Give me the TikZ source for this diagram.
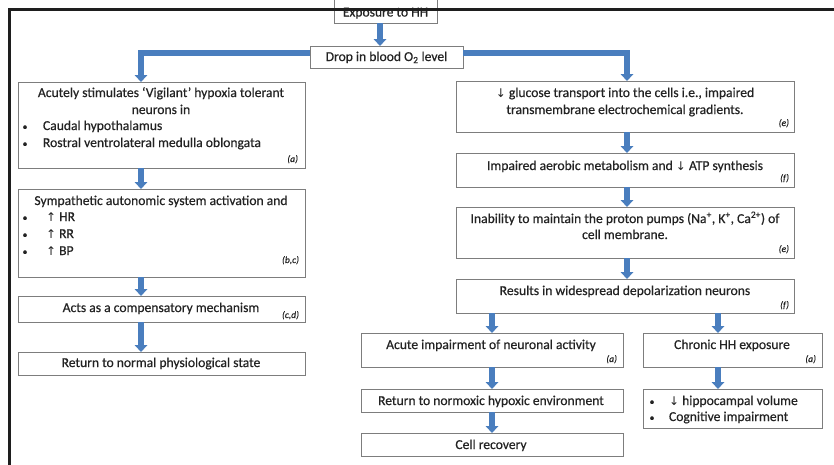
\documentclass[tikz,border=0pt]{standalone}
\usepackage{fontspec}
\setmainfont{Carlito}[FakeBold=0.5,UprightFeatures={FakeBold=0.5},ItalicFeatures={FakeBold=0.3}]
\newfontfamily\symf{DejaVu Sans}
\usetikzlibrary{arrows.meta}
\definecolor{flowblue}{RGB}{74,126,190}
\definecolor{boxgray}{RGB}{125,125,125}
\definecolor{txtc}{RGB}{35,35,35}
\definecolor{framec}{RGB}{30,30,30}
\newcommand\dnar{{\symf\fontsize{12}{14}\selectfont ↓}}
\newcommand\upar{{\symf\fontsize{12}{14}\selectfont ↑}}
\newcommand\bul{{\fontsize{10}{12}\selectfont •}}
\tikzset{
 box/.style={draw=boxgray, line width=0.9pt, fill=white, inner sep=0pt, outer sep=0pt, anchor=north west},
 txt/.style={inner sep=0pt, outer sep=0pt, anchor=base, text=txtc, font=\fontsize{13.6}{16}\selectfont},
 txtl/.style={txt, anchor=base west},
 refl/.style={inner sep=0pt, outer sep=0pt, anchor=base east, text=txtc, font=\itshape\fontsize{9.5}{11}\selectfont},
 flow/.style={draw=flowblue, line width=5.5pt, -{Triangle[width=12.5pt,length=7pt]}},
}
\begin{document}
\begin{tikzpicture}[x=1pt,y=-1pt]
\useasboundingbox (0,0) rectangle (834,464);
\clip (0,0) rectangle (834,464);
\fill[white] (0,0) rectangle (834,464);
% boxes
\node[box, minimum width=103, minimum height=28] (exp) at (334,-5) {};
\node[box, minimum width=153, minimum height=22] (drop) at (310,46) {};
\node[box, minimum width=287, minimum height=86] (l1) at (18,82) {};
\node[box, minimum width=287, minimum height=88] (l2) at (18,189) {};
\node[box, minimum width=287, minimum height=26] (l3) at (18,296) {};
\node[box, minimum width=287, minimum height=23] (l4) at (18,352) {};
\node[box, minimum width=338, minimum height=51] (r1) at (456,81) {};
\node[box, minimum width=338, minimum height=34] (r2) at (456,153) {};
\node[box, minimum width=338, minimum height=51] (r3) at (456,207) {};
\node[box, minimum width=338, minimum height=34] (r4) at (456,279) {};
\node[box, minimum width=262, minimum height=34] (r5a) at (361,333) {};
\node[box, minimum width=179, minimum height=34] (r5b) at (643,333) {};
\node[box, minimum width=262, minimum height=23] (r6a) at (361,389) {};
\node[box, minimum width=179, minimum height=39] (r6b) at (643,389) {};
\node[box, minimum width=262, minimum height=23] (r7a) at (361,433) {};
% texts
\node[txt] (texp) at (385.5,16.5) {Exposure to HH};
\node[txt] (tdrop) at (386.5,61) {Drop in blood O\textsubscript{2} level};
\node[txt] (tl1a) at (161,97) {Acutely stimulates ‘Vigilant’ hypoxia tolerant};
\node[txt] (tl1b) at (161,114) {neurons in};
\node[txt] (bl1a) at (25,130) {\bul};
\node[txtl] (tl1c) at (43,130) {Caudal hypothalamus};
\node[txt] (bl1b) at (25,147) {\bul};
\node[txtl] (tl1d) at (43,147) {Rostral ventrolateral medulla oblongata};
\node[refl] (rl1) at (298,162) {(a)};
\node[txt] (tl2a) at (161,205) {Sympathetic autonomic system activation and};
\node[txt] (bl2a) at (25,221) {\bul};
\node[txtl] (tl2b) at (46,221) {\upar\ HR};
\node[txt] (bl2b) at (25,238) {\bul};
\node[txtl] (tl2c) at (46,238) {\upar\ RR};
\node[txt] (bl2c) at (25,255) {\bul};
\node[txtl] (tl2d) at (46,255) {\upar\ BP};
\node[refl] (rl2) at (299,263) {(b,c)};
\node[txt] (tl3) at (161,312) {Acts as a compensatory mechanism};
\node[refl] (rl3) at (299,318) {(c,d)};
\node[txt] (tl4) at (161,367) {Return to normal physiological state};
\node[txt] (tr1a) at (625,97) {\dnar\ glucose transport into the cells i.e., impaired};
\node[txt] (tr1b) at (625,114) {transmembrane electrochemical gradients.};
\node[refl] (rr1) at (789,126) {(e)};
\node[txt] (tr2) at (625,170) {Impaired aerobic metabolism and \dnar\ ATP synthesis};
\node[refl] (rr2) at (789,181) {(f)};
\node[txt] (tr3a) at (625,223) {Inability to maintain the proton pumps (Na\textsuperscript{+}, K\textsuperscript{+}, Ca\textsuperscript{2+}) of};
\node[txt] (tr3b) at (625,239) {cell membrane.};
\node[refl] (rr3) at (789,252) {(e)};
\node[txt] (tr4) at (625,295) {Results in widespread depolarization neurons};
\node[refl] (rr4) at (789,308) {(f)};
\node[txt] (tr5a) at (491,349) {Acute impairment of neuronal activity};
\node[refl] (rr5a) at (617,362) {(a)};
\node[txt] (tr5b) at (732,349) {Chronic HH exposure};
\node[refl] (rr5b) at (816,362) {(a)};
\node[txt] (tr6a) at (491,405) {Return to normoxic hypoxic environment};
\node[txt] (br6a) at (652,405) {\bul};
\node[txtl] (tr6b) at (669,405) {\dnar\ hippocampal volume};
\node[txt] (br6b) at (652,421) {\bul};
\node[txtl] (tr6c) at (669,421) {Cognitive impairment};
\node[txt] (tr7a) at (491,449) {Cell recovery};
% frame
\draw[framec, line width=3pt] (9,470) -- (9,9.5) -- (840,9.5);
% connectors
\draw[flow] ([xshift=-5.5pt]exp.south) -- ([xshift=-6.5pt]drop.north);
\draw[flow] ([yshift=4pt]drop.west) -| ([xshift=-20.5pt]l1.north);
\draw[flow] ([yshift=4pt]drop.east) -| ([xshift=2pt]r1.north);
\draw[flow] ([xshift=-20.5pt]l1.south) -- ([xshift=-20.5pt]l2.north);
\draw[flow] ([xshift=-20.5pt]l2.south) -- ([xshift=-20.5pt]l3.north);
\draw[flow] ([xshift=-20.5pt]l3.south) -- ([xshift=-20.5pt]l4.north);
\draw[flow] ([xshift=2pt]r1.south) -- ([xshift=2pt]r2.north);
\draw[flow] ([xshift=2pt]r2.south) -- ([xshift=2pt]r3.north);
\draw[flow] ([xshift=2pt]r3.south) -- ([xshift=2pt]r4.north);
\coordinate (b5n) at ([xshift=-14.5pt]r5b.north);
\coordinate (b6n) at ([xshift=-14.5pt]r6b.north);
\draw[flow] (r4.south -| r5a.north) -- (r5a.north);
\draw[flow] (r4.south -| b5n) -- (b5n);
\draw[flow] (r5a.south) -- (r6a.north);
\draw[flow] (r6a.south) -- (r7a.north);
\draw[flow] ([xshift=-14.5pt]r5b.south) -- (b6n);
\end{tikzpicture}
\end{document}
